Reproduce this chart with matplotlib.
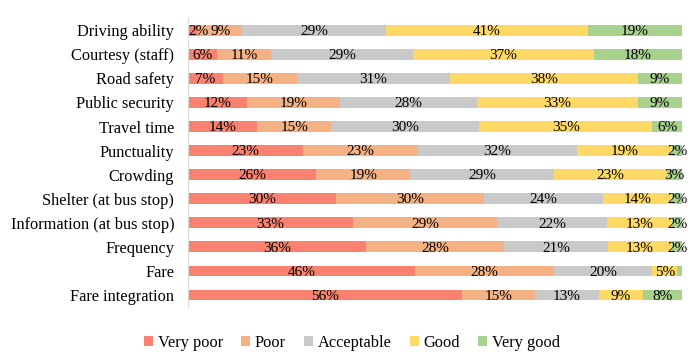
import numpy as np
import matplotlib.pyplot as plt

plt.rcParams['font.family'] = ['Liberation Serif', 'DejaVu Serif']

categories = ['Driving ability', 'Courtesy (staff)', 'Road safety', 'Public security',
              'Travel time', 'Punctuality', 'Crowding', 'Shelter (at bus stop)',
              'Information (at bus stop)', 'Frequency', 'Fare', 'Fare integration']

series = ['Very poor', 'Poor', 'Acceptable', 'Good', 'Very good']

very_poor = [2, 6, 7, 12, 14, 23, 26, 30, 33, 36, 46, 56]
poor = [9, 11, 15, 19, 15, 23, 19, 30, 29, 28, 28, 15]
acceptable = [29, 29, 31, 28, 30, 32, 29, 24, 22, 21, 20, 13]
good = [41, 37, 38, 33, 35, 19, 23, 14, 13, 13, 5, 9]
very_good = [19, 18, 9, 9, 6, 2, 3, 2, 2, 2, 1, 8]

colors = ['#F8826F', '#F4B183', '#C9C9C9', '#FFD966', '#A9D18E']

vals = np.array([very_poor, poor, acceptable, good, very_good], dtype=float)
# 100% stacked: normalise each row
share = vals / vals.sum(axis=0) * 100

fig = plt.figure(figsize=(7, 3.63), dpi=100)
ax = fig.add_axes([0.2686, 0.154, 0.7057, 0.796])

y = np.arange(len(categories))
left = np.zeros(len(categories))
for i in range(len(series)):
    ax.barh(y, share[i], left=left, height=0.45, color=colors[i], label=series[i])
    for j in range(len(categories)):
        if vals[i, j] >= 2:
            xc = left[j] + share[i, j] / 2
            if xc < 1.5:
                xc = 2.2  # keep the tiny first label off the axis line
            ax.text(xc, y[j] + 0.05, '%d%%' % vals[i, j],
                    ha='center', va='center', fontsize=11, color='black')
    left = left + share[i]

ax.set_xlim(0, 100)
ax.set_ylim(len(categories) - 0.5, -0.5)
ax.set_yticks(y)
ax.set_yticklabels(categories, fontsize=11.8)
ax.tick_params(axis='y', length=0, pad=10)
ax.set_xticks([])
for s in ['top', 'right', 'bottom']:
    ax.spines[s].set_visible(False)
ax.spines['left'].set_color('#D9D9D9')

ax.legend(loc='center', bbox_to_anchor=(0.332, -0.125), ncol=5, frameon=False,
          fontsize=11.8, handlelength=0.55, handleheight=0.55, handletextpad=0.3,
          columnspacing=1.1)

fig.savefig('out.png', dpi=100)
